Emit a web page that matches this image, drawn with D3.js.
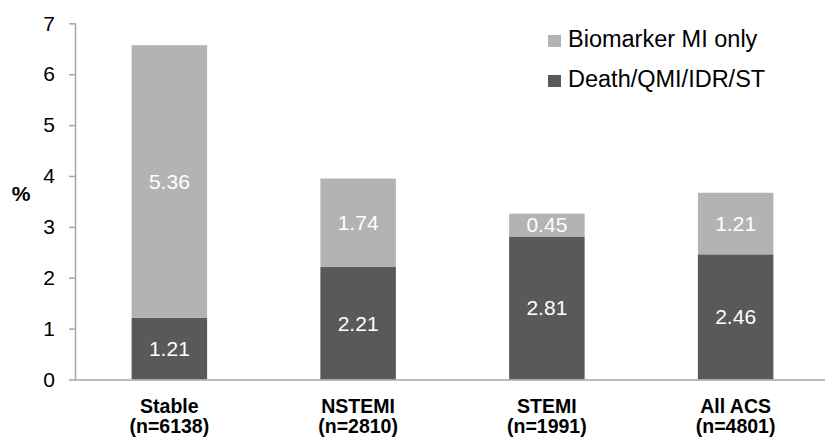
<!DOCTYPE html>
<html><head><meta charset="utf-8">
<script src="https://cdn.jsdelivr.net/npm/d3@7"></script>
<style>body{margin:0;background:#fff}svg{display:block;font-family:"Liberation Sans",Arial,sans-serif}</style>
</head><body><svg id="c" width="825" height="440"></svg>
<script>
const categories = ["Stable", "NSTEMI", "STEMI", "All ACS"];
const nLabels = ["(n=6138)", "(n=2810)", "(n=1991)", "(n=4801)"];
const deathValues = [1.21, 2.21, 2.81, 2.46];
const biomarkerValues = [5.36, 1.74, 0.45, 1.21];
const seriesNames = ["Biomarker MI only", "Death/QMI/IDR/ST"];
const yTicks = [0, 1, 2, 3, 4, 5, 6, 7];

(function () {
const svg = d3.select("#c");
const FF = "Liberation Sans, Arial, sans-serif";
const pLeft = 75, pRight = 830, pTop = 23.3, pBottom = 379.5;
const x = d3.scaleBand().domain(categories).range([pLeft, pRight]).paddingInner(0.6).paddingOuter(0.3);
const y = d3.scaleLinear().domain([0, 7]).range([pBottom, pTop]);
const colDark = "#595959", colLight = "#b3b3b3", axisCol = "#a6a6a6";

const data = categories.map((c, i) => ({c, d: deathValues[i], b: biomarkerValues[i]}));

const g = svg.append("g");
g.selectAll("rect.d").data(data).enter().append("rect")
  .attr("x", d => x(d.c)).attr("width", x.bandwidth())
  .attr("y", d => y(d.d)).attr("height", d => y(0) - y(d.d)).attr("fill", colDark);
g.selectAll("rect.b").data(data).enter().append("rect")
  .attr("x", d => x(d.c)).attr("width", x.bandwidth())
  .attr("y", d => y(d.d + d.b)).attr("height", d => y(d.d) - y(d.d + d.b)).attr("fill", colLight);

g.selectAll("text.dl").data(data).enter().append("text")
  .attr("x", d => x(d.c) + x.bandwidth() / 2).attr("y", d => y(d.d / 2))
  .attr("dy", "0.35em").attr("text-anchor", "middle").attr("fill", "#fff")
  .attr("font-size", 21).text(d => d.d.toFixed(2));
g.selectAll("text.bl").data(data).enter().append("text")
  .attr("x", d => x(d.c) + x.bandwidth() / 2).attr("y", d => y(d.d + d.b / 2))
  .attr("dy", "0.35em").attr("text-anchor", "middle").attr("fill", "#fff")
  .attr("font-size", 21).text(d => d.b.toFixed(2));

const ya = svg.append("g").attr("transform", `translate(${pLeft},0)`)
  .call(d3.axisLeft(y).tickValues(yTicks).tickSize(6).tickPadding(14).tickFormat(d3.format("d")));
ya.select(".domain").attr("stroke", axisCol).attr("stroke-width", 1.5).attr("d", `M0.5,${pTop}V${pBottom}`);
ya.selectAll(".tick line").attr("stroke", axisCol).attr("stroke-width", 1.5);
ya.selectAll(".tick text").attr("font-size", 21).attr("fill", "#000").attr("font-family", FF);

svg.append("line").attr("x1", pLeft).attr("x2", 825).attr("y1", pBottom + 0.5).attr("y2", pBottom + 0.5)
  .attr("stroke", axisCol).attr("stroke-width", 1.5);

const cl = svg.append("g").selectAll("text").data(categories).enter().append("text")
  .attr("text-anchor", "middle").attr("font-weight", "bold").attr("font-size", 19.5).attr("fill", "#000");
cl.append("tspan").attr("x", d => x(d) + x.bandwidth() / 2).attr("y", 412.5).text(d => d);
cl.append("tspan").attr("x", d => x(d) + x.bandwidth() / 2).attr("y", 432.5).text((d, i) => nLabels[i]);

svg.append("text").attr("x", 21).attr("y", 201).attr("text-anchor", "middle")
  .attr("font-weight", "bold").attr("font-size", 21).text("%");

const leg = svg.append("g").selectAll("g").data(seriesNames).enter().append("g")
  .attr("transform", (d, i) => `translate(548,${47 + i * 40})`);
leg.append("rect").attr("x", 0).attr("y", -12).attr("width", 13).attr("height", 12)
  .attr("fill", (d, i) => i === 0 ? colLight : colDark);
leg.append("text").attr("x", 20).attr("font-size", 23.5).attr("fill", "#000").text(d => d);
})();
</script></body></html>
